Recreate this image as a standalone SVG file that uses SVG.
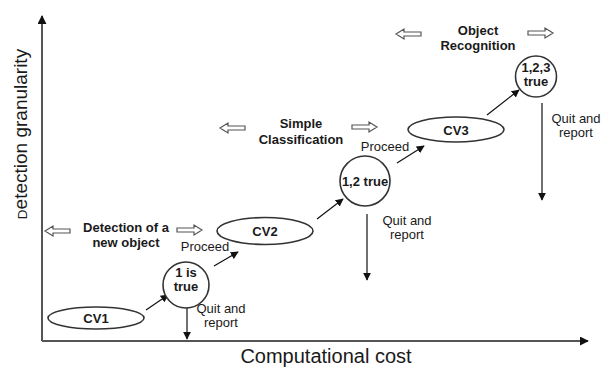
<svg xmlns="http://www.w3.org/2000/svg" width="602" height="367" viewBox="0 0 602 367">
<style>
text{font-family:"Liberation Sans",Arial,sans-serif;fill:#1a1a1a;text-anchor:middle}
.b{font-weight:bold;font-size:13px}
.r{font-size:13px}
.node{fill:#fff;stroke:#333;stroke-width:1.6}
.ax{stroke:#555;stroke-width:2;fill:none}
.con{stroke:#111;stroke-width:1.2;fill:none}
.ha{fill:#fff;stroke:#555;stroke-width:1.2}
</style>
<defs>
<marker id="ah" viewBox="0 0 10 10" refX="9" refY="5" markerWidth="8" markerHeight="8" markerUnits="userSpaceOnUse" orient="auto">
<path d="M0,0 L10,5 L0,10 Z" fill="#111"/>
</marker>
<marker id="axh" viewBox="0 0 10 10" refX="9" refY="5" markerWidth="9" markerHeight="9" markerUnits="userSpaceOnUse" orient="auto">
<path d="M0,0 L10,5 L0,10 Z" fill="#111"/>
</marker>
<path id="har" d="M0,-2 H17 V-5 L25,0 L17,5 V2 H0 Z"/>
</defs>

<g id="axes">
<line class="ax" x1="42" y1="341" x2="42" y2="16" marker-end="url(#axh)"/>
<line class="ax" x1="42" y1="341" x2="588" y2="341" marker-end="url(#axh)"/>
<text x="326" y="363" style="font-size:20px">Computational cost</text>
<text transform="translate(27,134) rotate(-90)" style="font-size:19px"><tspan style="font-size:13.5px">D</tspan>etection granularity</text>
</g>

<g id="stages">
<use href="#har" class="ha" transform="translate(70,231) scale(-1,1)"/>
<use href="#har" class="ha" transform="translate(177,230)"/>
<text class="b" x="126" y="232">Detection of a</text>
<text class="b" x="126" y="247">new object</text>
<use href="#har" class="ha" transform="translate(245,128) scale(-1,1)"/>
<use href="#har" class="ha" transform="translate(352,127)"/>
<text class="b" x="301" y="128">Simple</text>
<text class="b" x="301" y="144">Classification</text>
<use href="#har" class="ha" transform="translate(421,34) scale(-1,1)"/>
<use href="#har" class="ha" transform="translate(528,33)"/>
<text class="b" x="478" y="35">Object</text>
<text class="b" x="478" y="50">Recognition</text>
</g>

<g id="connectors">
<line class="con" x1="146" y1="310" x2="168" y2="295" marker-end="url(#ah)"/>
<line class="con" x1="214" y1="266" x2="238" y2="252" marker-end="url(#ah)"/>
<line class="con" x1="317" y1="219" x2="343" y2="199" marker-end="url(#ah)"/>
<line class="con" x1="397" y1="163" x2="424" y2="146" marker-end="url(#ah)"/>
<line class="con" x1="487" y1="115" x2="519" y2="90" marker-end="url(#ah)"/>
<line class="con" x1="187" y1="307" x2="187" y2="339" marker-end="url(#ah)"/>
<line class="con" x1="367" y1="214" x2="367" y2="280" marker-end="url(#ah)"/>
<line class="con" x1="542" y1="103" x2="542" y2="200" marker-end="url(#ah)"/>
<text class="r" x="205" y="251">Proceed</text>
<text class="r" x="221" y="313">Quit and</text>
<text class="r" x="221" y="327">report</text>
<text class="r" x="385" y="151">Proceed</text>
<text class="r" x="407" y="225">Quit and</text>
<text class="r" x="407" y="239">report</text>
<text class="r" x="576" y="123">Quit and</text>
<text class="r" x="576" y="137">report</text>
</g>

<g id="cv1">
<ellipse class="node" cx="96" cy="318" rx="48" ry="11"/>
<text class="b" x="96" y="323">CV1</text>
</g>
<g id="c1">
<circle class="node" cx="186" cy="285" r="23"/>
<text class="b" x="186" y="277">1 is</text>
<text class="b" x="186" y="291">true</text>
</g>
<g id="cv2">
<ellipse class="node" cx="265" cy="231" rx="48" ry="13.5"/>
<text class="b" x="265" y="235.5">CV2</text>
</g>
<g id="c2">
<circle class="node" cx="365" cy="181" r="25"/>
<text class="b" x="365" y="185.5">1,2 true</text>
</g>
<g id="cv3">
<ellipse class="node" cx="456" cy="129.5" rx="48" ry="12.5"/>
<text class="b" x="456" y="135">CV3</text>
</g>
<g id="c3">
<circle class="node" cx="536" cy="76.5" r="20.5"/>
<text class="b" x="536" y="72">1,2,3</text>
<text class="b" x="536" y="86">true</text>
</g>
</svg>
